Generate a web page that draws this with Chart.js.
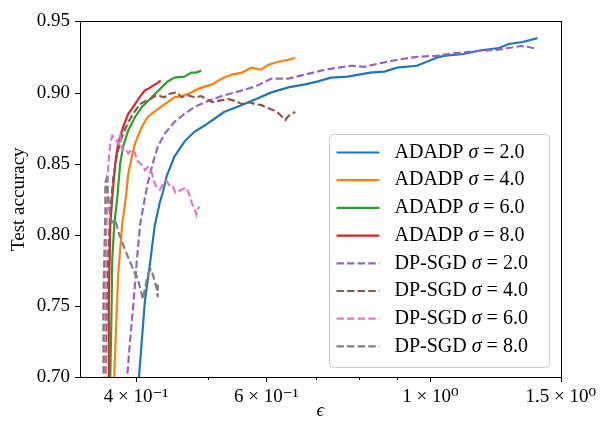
<!DOCTYPE html>
<html lang="en">
<head>
    <meta charset="UTF-8">
    <title>Test accuracy vs privacy budget</title>
    <script src="https://cdn.jsdelivr.net/npm/chart.js"></script>
    <style>
        body {
            margin: 0;
            background: #fff;
        }

        #accuracyCanvas {
            display: block;
        }
    </style>
</head>
<body>
<canvas id="accuracyCanvas" width="605" height="425"></canvas>

<script>
    // Epsilon spent vs test accuracy, one pair of arrays per run
    const epsAdadp2 = [0.402, 0.4037, 0.4112, 0.4176, 0.4241, 0.4307, 0.4347, 0.4401, 0.451, 0.4651, 0.4796, 0.4946, 0.5101, 0.526, 0.5509, 0.5804, 0.6097, 0.6427, 0.6772, 0.7049, 0.7337, 0.7731, 0.8146, 0.8298, 0.8663, 0.9017, 0.9588, 1.0197, 1.0419, 1.108, 1.1781, 1.2377, 1.2764, 1.3326, 1.3956];
    const accAdadp2 = [0.688, 0.700, 0.7533, 0.779, 0.8067, 0.8226, 0.8295, 0.8413, 0.8551, 0.8655, 0.8724, 0.8766, 0.8814, 0.8863, 0.8904, 0.8953, 0.9001, 0.9036, 0.9057, 0.9078, 0.9105, 0.9112, 0.9133, 0.914, 0.9147, 0.9175, 0.9188, 0.9244, 0.9258, 0.9271, 0.9299, 0.9313, 0.9341, 0.9355, 0.9382];

    const epsAdadp4 = [0.3726, 0.3738, 0.3761, 0.3784, 0.3831, 0.3879, 0.3903, 0.3951, 0.3988, 0.4074, 0.415, 0.428, 0.4415, 0.451, 0.4609, 0.4723, 0.487, 0.507, 0.5228, 0.5392, 0.556, 0.5733, 0.5894, 0.6041, 0.623, 0.6427, 0.6567];
    const accAdadp4 = [0.6875, 0.700, 0.7374, 0.772, 0.8067, 0.8281, 0.842, 0.8558, 0.8641, 0.8759, 0.8828, 0.8884, 0.8932, 0.8967, 0.8974, 0.8994, 0.9029, 0.9057, 0.9098, 0.9126, 0.914, 0.9175, 0.9161, 0.9195, 0.9216, 0.923, 0.9244];

    const epsAdadp6 = [0.3681, 0.3692, 0.3704, 0.3715, 0.3738, 0.3773, 0.3808, 0.3843, 0.3903, 0.3988, 0.4074, 0.415, 0.4241, 0.4333, 0.4415, 0.451, 0.4651, 0.4752, 0.4826, 0.49];
    const accAdadp6 = [0.6875, 0.700, 0.7374, 0.7831, 0.8067, 0.826, 0.8503, 0.862, 0.8731, 0.8828, 0.8898, 0.8939, 0.8988, 0.9036, 0.9078, 0.9105, 0.9112, 0.914, 0.914, 0.9154];

    const epsAdadp8 = [0.3659, 0.367, 0.3675, 0.3692, 0.3715, 0.375, 0.3784, 0.3843, 0.3903, 0.3963, 0.4012, 0.4074, 0.4112, 0.4163, 0.4202, 0.4267, 0.432];
    const accAdadp8 = [0.6875, 0.700, 0.7533, 0.8067, 0.826, 0.8503, 0.8641, 0.8759, 0.8849, 0.8898, 0.8939, 0.8988, 0.9015, 0.9029, 0.9043, 0.9064, 0.9084];

    const epsDpsgd2 = [0.3879, 0.3891, 0.3927, 0.3963, 0.4012, 0.405, 0.4112, 0.415, 0.4215, 0.428, 0.4374, 0.451, 0.4651, 0.4796, 0.4992, 0.5212, 0.5509, 0.5804, 0.6097, 0.6427, 0.6772, 0.7113, 0.7496, 0.7802, 0.8146, 0.8478, 0.9017, 0.9588, 1.0197, 1.0844, 1.153, 1.2263, 1.2764, 1.3244, 1.3575, 1.3956];
    const accDpsgd2 = [0.6875, 0.700, 0.7256, 0.7485, 0.7831, 0.8067, 0.826, 0.8364, 0.8503, 0.862, 0.8711, 0.8794, 0.8849, 0.8898, 0.8939, 0.8974, 0.9008, 0.9043, 0.9098, 0.9098, 0.9126, 0.9154, 0.9175, 0.9188, 0.9181, 0.9202, 0.923, 0.9251, 0.9258, 0.9278, 0.9292, 0.9299, 0.9313, 0.9327, 0.932, 0.9306];

    const epsDpsgd4 = [0.3625, 0.3636, 0.3648, 0.367, 0.3692, 0.3726, 0.3773, 0.382, 0.3867, 0.3927, 0.3988, 0.405, 0.4112, 0.4176, 0.4241, 0.4307, 0.4374, 0.4415, 0.4469, 0.4538, 0.4609, 0.4694, 0.4796, 0.49, 0.4992, 0.507, 0.5148, 0.5228, 0.5342, 0.5458, 0.556, 0.5681, 0.5804, 0.5913, 0.5986, 0.6078, 0.6172, 0.6249, 0.6307, 0.6365, 0.6427, 0.6485, 0.6567];
    const accDpsgd4 = [0.6875, 0.700, 0.7395, 0.788, 0.8157, 0.8399, 0.8572, 0.8676, 0.8745, 0.8814, 0.887, 0.8918, 0.8939, 0.8953, 0.8974, 0.8974, 0.8967, 0.8988, 0.8994, 0.9001, 0.8967, 0.8981, 0.8967, 0.8974, 0.8953, 0.8932, 0.8939, 0.8946, 0.8953, 0.8939, 0.8918, 0.8932, 0.8918, 0.8911, 0.8898, 0.8884, 0.887, 0.8849, 0.8828, 0.8807, 0.8835, 0.8849, 0.8863];

    const epsDpsgd6 = [0.3614, 0.3625, 0.3636, 0.3648, 0.3659, 0.367, 0.3692, 0.3715, 0.375, 0.3784, 0.3808, 0.3831, 0.3867, 0.3903, 0.3951, 0.3988, 0.4012, 0.405, 0.4087, 0.4112, 0.415, 0.4202, 0.4228, 0.4267, 0.4307, 0.436, 0.4401, 0.4442, 0.4482, 0.4524, 0.458, 0.4636, 0.468, 0.4723, 0.4767, 0.4796, 0.4826, 0.484, 0.487];
    const accDpsgd6 = [0.6875, 0.700, 0.7533, 0.8018, 0.8295, 0.8503, 0.8641, 0.8697, 0.8676, 0.8641, 0.869, 0.8593, 0.8607, 0.8572, 0.86, 0.8572, 0.8524, 0.8503, 0.8482, 0.8454, 0.8475, 0.8434, 0.8378, 0.833, 0.8316, 0.8364, 0.8378, 0.8343, 0.8343, 0.8295, 0.8309, 0.8323, 0.833, 0.8281, 0.8212, 0.8191, 0.8143, 0.817, 0.8198];

    const epsDpsgd8 = [0.3602, 0.3614, 0.3614, 0.3625, 0.3636, 0.3636, 0.3648, 0.3659, 0.3681, 0.3692, 0.3715, 0.375, 0.3773, 0.3796, 0.3831, 0.3867, 0.3891, 0.3927, 0.3951, 0.3988, 0.4012, 0.4037, 0.4062, 0.4087, 0.4112, 0.4138, 0.4163, 0.4189, 0.4215, 0.4241, 0.4267, 0.428, 0.428];
    const accDpsgd8 = [0.6875, 0.700, 0.7533, 0.788, 0.8157, 0.8364, 0.8392, 0.833, 0.8191, 0.8122, 0.8087, 0.8101, 0.8053, 0.8004, 0.7949, 0.7893, 0.7859, 0.781, 0.7776, 0.7727, 0.7706, 0.7658, 0.7602, 0.7547, 0.7616, 0.7686, 0.7741, 0.7755, 0.772, 0.7672, 0.7616, 0.7561, 0.7651];

    const seriesLabels = [
        'ADADP σ = 2.0', 'ADADP σ = 4.0', 'ADADP σ = 6.0', 'ADADP σ = 8.0',
        'DP-SGD σ = 2.0', 'DP-SGD σ = 4.0', 'DP-SGD σ = 6.0', 'DP-SGD σ = 8.0'
    ];
    const seriesEps = [epsAdadp2, epsAdadp4, epsAdadp6, epsAdadp8, epsDpsgd2, epsDpsgd4, epsDpsgd6, epsDpsgd8];
    const seriesAcc = [accAdadp2, accAdadp4, accAdadp6, accAdadp8, accDpsgd2, accDpsgd4, accDpsgd6, accDpsgd8];
    const seriesColors = ['#1f77b4', '#ff7f0e', '#2ca02c', '#d62728', '#9467bd', '#8c564b', '#e377c2', '#7f7f7f'];

    // Axis ticks (log x axis, labels only on the major ones)
    const xTickValues = [0.4, 0.5, 0.6, 0.7, 0.8, 0.9, 1, 1.5];
    const xTickLabels = ['4 × 10⁻¹', '', '6 × 10⁻¹', '', '', '', '1 × 10⁰', '1.5 × 10⁰'];
    const yTickValues = [0.70, 0.75, 0.80, 0.85, 0.90, 0.95];

    const FONT = "'Liberation Serif', 'DejaVu Serif', serif";
    const DASH = [7.4, 3.2];

    let chartAccuracy;

    // Ticks pointing outward and a full box around the plot
    const framePlugin = {
        id: 'frame',
        afterDatasetsDraw(chart) {
            const {ctx, chartArea: a, scales} = chart;
            ctx.save();
            ctx.strokeStyle = '#000';
            ctx.lineWidth = 1;
            ctx.beginPath();
            xTickValues.forEach((v, i) => {
                const px = Math.round(scales.x.getPixelForValue(v)) + 0.5;
                const len = xTickLabels[i] ? 5 : 3;
                ctx.moveTo(px, a.bottom);
                ctx.lineTo(px, a.bottom + len);
            });
            yTickValues.forEach(v => {
                const py = Math.round(scales.y.getPixelForValue(v)) + 0.5;
                ctx.moveTo(a.left - 5, py);
                ctx.lineTo(a.left, py);
            });
            ctx.stroke();
            ctx.strokeRect(Math.round(a.left) + 0.5, Math.round(a.top) + 0.5,
                Math.round(a.right - a.left), Math.round(a.bottom - a.top));
            ctx.restore();
        }
    };

    // Legend box in the lower right corner, sigma set in italics
    const legendPlugin = {
        id: 'sigmaLegend',
        afterDraw(chart) {
            const {ctx, chartArea: a} = chart;
            const w = 220, h = 233;
            const x0 = Math.round(a.right - 12 - w) + 0.5;
            const y0 = Math.round(a.bottom - 10 - h) + 0.5;
            ctx.save();
            ctx.beginPath();
            ctx.roundRect(x0, y0, w, h, 4);
            ctx.fillStyle = 'rgba(255, 255, 255, 0.8)';
            ctx.fill();
            ctx.strokeStyle = '#cccccc';
            ctx.lineWidth = 1;
            ctx.stroke();

            ctx.textBaseline = 'middle';
            ctx.fillStyle = '#000';
            chart.data.datasets.forEach((ds, i) => {
                const y = y0 + 18 + i * 27.7;
                ctx.beginPath();
                ctx.setLineDash(ds.borderDash || []);
                ctx.strokeStyle = ds.borderColor;
                ctx.lineWidth = ds.borderWidth;
                ctx.moveTo(x0 + 7, y);
                ctx.lineTo(x0 + 50, y);
                ctx.stroke();
                ctx.setLineDash([]);

                const parts = ds.label.split('σ');
                let tx = x0 + 65;
                ctx.font = '20px ' + FONT;
                ctx.fillText(parts[0], tx, y);
                tx += ctx.measureText(parts[0]).width;
                ctx.font = 'italic 20px ' + FONT;
                ctx.fillText('σ', tx, y);
                tx += ctx.measureText('σ').width;
                ctx.font = '20px ' + FONT;
                ctx.fillText(parts[1], tx, y);
            });
            ctx.restore();
        }
    };

    function buildDatasets() {
        return seriesLabels.map((label, i) => ({
            label: label,
            data: seriesEps[i].map((e, j) => ({x: e, y: seriesAcc[i][j]})),
            borderColor: seriesColors[i],
            backgroundColor: seriesColors[i],
            borderWidth: 2.2,
            borderDash: i >= 4 ? DASH : [],
            pointRadius: 0,
            fill: false,
            tension: 0,
            order: 7 - i // later runs drawn on top
        }));
    }

    function initializeChart() {
        const ctx = document.getElementById('accuracyCanvas').getContext('2d');
        chartAccuracy = new Chart(ctx, {
            type: 'line',
            data: {datasets: buildDatasets()},
            options: {
                responsive: false,
                animation: false,
                devicePixelRatio: 1,
                layout: {padding: {top: 16, right: 40, left: 0, bottom: 0}},
                plugins: {
                    legend: {display: false},
                    tooltip: {enabled: false}
                },
                scales: {
                    x: {
                        type: 'logarithmic',
                        bounds: 'data', // keep min/max as given, no rounding to ticks
                        min: 0.336,
                        max: 1.5,
                        afterBuildTicks: scale => {
                            scale.ticks = xTickValues.map(v => ({value: v}));
                        },
                        afterFit: scale => {
                            scale.height = 48;
                        },
                        grid: {display: false, drawTicks: false},
                        border: {display: false},
                        ticks: {
                            autoSkip: false,
                            maxRotation: 0,
                            padding: 9,
                            color: '#000',
                            font: {family: FONT, size: 19},
                            callback: (value, index) => xTickLabels[index]
                        },
                        title: {
                            display: true,
                            text: 'ϵ',
                            color: '#000',
                            font: {family: FONT, size: 19, style: 'italic'},
                            padding: {top: 0, bottom: 3}
                        }
                    },
                    y: {
                        min: 0.70,
                        max: 0.95,
                        afterBuildTicks: scale => {
                            scale.ticks = yTickValues.map(v => ({value: v}));
                        },
                        afterFit: scale => {
                            scale.width = 80;
                        },
                        grid: {display: false, drawTicks: false},
                        border: {display: false},
                        ticks: {
                            padding: 10,
                            color: '#000',
                            font: {family: FONT, size: 19},
                            callback: value => value.toFixed(2)
                        },
                        title: {
                            display: true,
                            text: 'Test accuracy',
                            color: '#000',
                            font: {family: FONT, size: 19},
                            padding: {top: 8, bottom: 0}
                        }
                    }
                }
            },
            plugins: [framePlugin, legendPlugin]
        });
    }

    window.onload = () => {
        initializeChart();
    };
</script>
</body>
</html>
